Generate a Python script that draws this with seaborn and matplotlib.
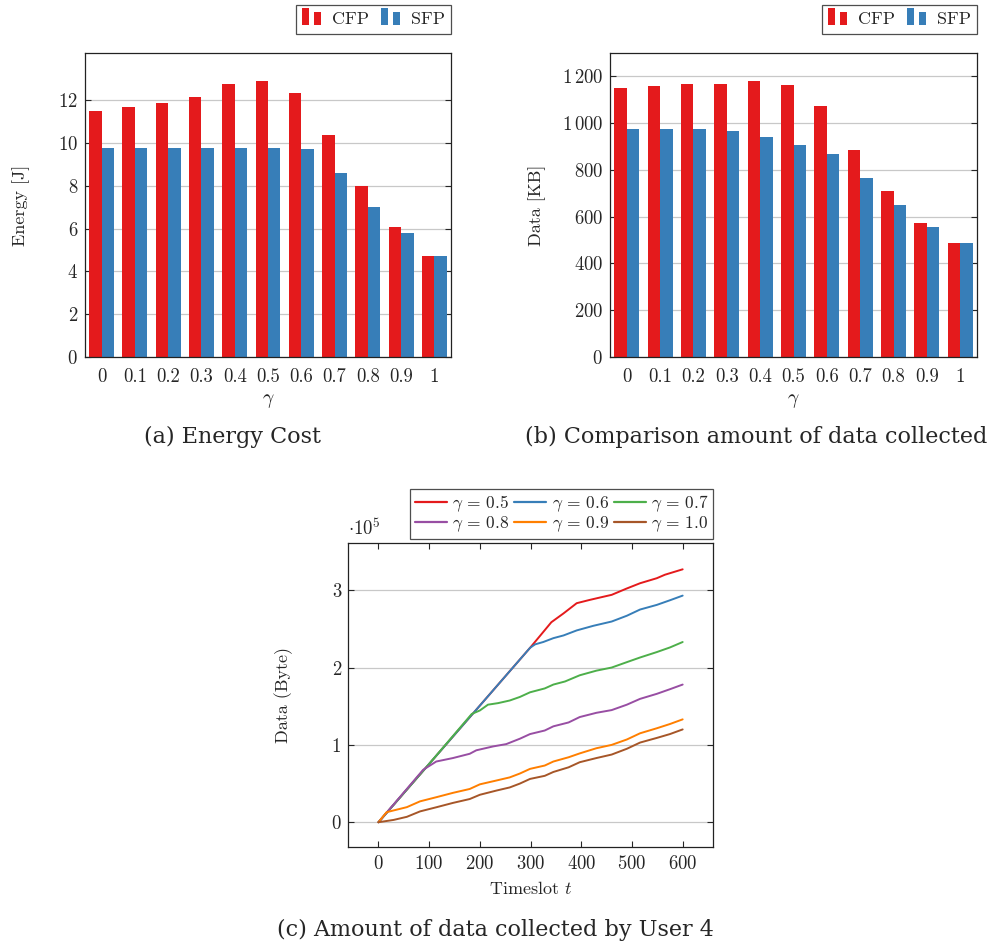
import numpy as np
import pandas as pd
import matplotlib
matplotlib.use("Agg")
import matplotlib.pyplot as plt
from matplotlib.patches import Rectangle
from matplotlib.lines import Line2D
from matplotlib.legend_handler import HandlerBase
from matplotlib.ticker import FuncFormatter, MultipleLocator, FixedLocator
import seaborn as sns

# ---------------- data ----------------
gammas = ["0", "0.1", "0.2", "0.3", "0.4", "0.5", "0.6", "0.7", "0.8", "0.9", "1"]
energy_cfp = [11.5, 11.68, 11.85, 12.15, 12.74, 12.91, 12.35, 10.35, 7.97, 6.09, 4.72]
energy_sfp = [9.78, 9.78, 9.78, 9.78, 9.78, 9.78, 9.73, 8.61, 6.99, 5.79, 4.72]
data_cfp = [1149, 1160, 1166, 1169, 1181, 1163, 1075, 885, 712, 574, 488]
data_sfp = [976, 976, 976, 968, 939, 907, 868, 764, 648, 555, 488]
energy_ticks = [0, 2, 4, 6, 8, 10, 12]
data_ticks = [0, 200, 400, 600, 800, 1000, 1200]

# user-4 cumulative data (units of 1e5 bytes)
t_g05 = [0, 100, 200, 299, 320, 341, 365, 391, 417, 440, 460, 489, 516, 549, 565, 600]
v_g05 = [0, 0.754, 1.508, 2.255, 2.42, 2.586, 2.70, 2.832, 2.875, 2.91, 2.94, 3.02, 3.09, 3.155, 3.20, 3.27]
t_g06 = [0, 100, 200, 299, 309, 325, 345, 365, 391, 424, 460, 490, 516, 549, 575, 600]
v_g06 = [0, 0.754, 1.508, 2.255, 2.30, 2.33, 2.38, 2.415, 2.48, 2.54, 2.595, 2.67, 2.75, 2.81, 2.87, 2.93]
t_g07 = [0, 100, 184, 200, 216, 236, 259, 279, 299, 328, 345, 368, 397, 430, 460, 490, 516, 549, 575, 600]
v_g07 = [0, 0.754, 1.40, 1.445, 1.52, 1.54, 1.574, 1.62, 1.68, 1.73, 1.78, 1.82, 1.90, 1.96, 2.00, 2.07, 2.13, 2.20, 2.26, 2.33]
t_g08 = [0, 88, 114, 147, 180, 193, 226, 252, 279, 299, 328, 345, 375, 397, 430, 460, 490, 516, 549, 575, 600]
v_g08 = [0, 0.677, 0.785, 0.83, 0.885, 0.93, 0.98, 1.01, 1.08, 1.14, 1.186, 1.24, 1.29, 1.36, 1.415, 1.45, 1.52, 1.595, 1.66, 1.72, 1.78]
t_g09 = [0, 16, 56, 82, 115, 147, 180, 200, 233, 259, 279, 299, 328, 345, 375, 397, 430, 460, 490, 516, 549, 575, 600]
v_g09 = [0, 0.13, 0.195, 0.27, 0.325, 0.38, 0.43, 0.49, 0.54, 0.58, 0.63, 0.69, 0.733, 0.785, 0.84, 0.89, 0.957, 1.00, 1.07, 1.15, 1.215, 1.27, 1.33]
t_g10 = [0, 30, 56, 82, 115, 147, 180, 200, 233, 259, 279, 299, 328, 345, 375, 397, 430, 460, 490, 516, 549, 575, 600]
v_g10 = [0, 0.03, 0.07, 0.14, 0.195, 0.25, 0.30, 0.355, 0.41, 0.45, 0.50, 0.56, 0.60, 0.65, 0.71, 0.776, 0.83, 0.875, 0.95, 1.03, 1.09, 1.14, 1.20]
line_ticks_y = [0, 1, 2, 3]

line_labels = [r"$\gamma\,=\,0.5$", r"$\gamma\,=\,0.6$", r"$\gamma\,=\,0.7$",
               r"$\gamma\,=\,0.8$", r"$\gamma\,=\,0.9$", r"$\gamma\,=\,1.0$"]
line_colors = ["#e41a1c", "#377eb8", "#4daf4a", "#984ea3", "#ff7f00", "#a65628"]
bar_colors = {"CFP": "#e41a1c", "SFP": "#377eb8"}

# ---------------- style ----------------
sns.set_style("ticks")
plt.rcParams.update({
    "font.family": ["cmr10", "DejaVu Serif"],
    "mathtext.fontset": "cm",
    "axes.formatter.use_mathtext": True,
    "font.size": 13,
    "axes.edgecolor": "#222222",
    "axes.linewidth": 0.9,
    "axes.unicode_minus": False,
})

TICK_FS = 13.5
LABEL_FS = 13

fig = plt.figure(figsize=(9.93, 9.49), dpi=100)
ax_a = fig.add_axes([0.0856, 0.6238, 0.3686, 0.3203])
ax_b = fig.add_axes([0.6143, 0.6238, 0.3696, 0.3203])
ax_c = fig.add_axes([0.3505, 0.1075, 0.3676, 0.3203])


class TwoBarHandler(HandlerBase):
    def create_artists(self, legend, orig_handle, xdescent, ydescent,
                       width, height, fontsize, trans):
        c = orig_handle.get_facecolor()
        w = width * 0.37
        y0 = -ydescent - height * 0.05
        r1 = Rectangle((-xdescent, y0), w, height * 1.3,
                       facecolor=c, edgecolor="none", transform=trans)
        r2 = Rectangle((-xdescent + width * 0.63, y0), w, height * 1.05,
                       facecolor=c, edgecolor="none", transform=trans)
        return [r1, r2]


def style_bar_axes(ax, ylim, ticks):
    ax.set_xlim(-0.5, len(gammas) - 0.5)
    ax.set_ylim(*ylim)
    ax.yaxis.set_major_locator(FixedLocator(ticks))
    ax.grid(axis="y", color="#c8c8c8", linewidth=0.9)
    ax.set_axisbelow(True)
    ax.tick_params(axis="x", length=0, pad=8, labelsize=TICK_FS)
    ax.tick_params(axis="y", direction="in", length=4, pad=5, labelsize=TICK_FS,
                   right=True, left=True)
    for s in ax.spines.values():
        s.set_visible(True)
    ax.set_xlabel(r"$\gamma$", fontsize=14)
    ax.xaxis.set_label_coords(0.5, -0.115)
    handles = [Rectangle((0, 0), 1, 1, facecolor=bar_colors["CFP"]),
               Rectangle((0, 0), 1, 1, facecolor=bar_colors["SFP"])]
    leg = ax.legend(handles, ["CFP", "SFP"], ncol=2, loc="upper right",
                    bbox_to_anchor=(1.0, 1.157), borderaxespad=0,
                    frameon=True, fancybox=False, edgecolor="#222222",
                    handler_map={Rectangle: TwoBarHandler()},
                    handlelength=1.05, handletextpad=0.6, columnspacing=0.65,
                    fontsize=13, borderpad=0.35)
    leg.get_frame().set_linewidth(0.9)


def bar_df(cfp, sfp):
    return pd.DataFrame({
        "gamma": gammas * 2,
        "scheme": ["CFP"] * len(gammas) + ["SFP"] * len(gammas),
        "value": list(cfp) + list(sfp),
    })


# (a) Energy
sns.barplot(data=bar_df(energy_cfp, energy_sfp), x="gamma", y="value", hue="scheme",
            order=gammas, hue_order=["CFP", "SFP"], palette=bar_colors,
            saturation=1, width=0.75, gap=0, legend=False, ax=ax_a,
            edgecolor="none")
style_bar_axes(ax_a, (0, 14.2), energy_ticks)
ax_a.set_ylabel("Energy [J]", fontsize=LABEL_FS)
ax_a.yaxis.set_label_coords(-0.15, 0.5)

# (b) Data
sns.barplot(data=bar_df(data_cfp, data_sfp), x="gamma", y="value", hue="scheme",
            order=gammas, hue_order=["CFP", "SFP"], palette=bar_colors,
            saturation=1, width=0.75, gap=0, legend=False, ax=ax_b,
            edgecolor="none")
style_bar_axes(ax_b, (0, 1300), data_ticks)


def thou(v, pos):
    v = int(round(v))
    if v >= 1000:
        return r"$%d\,%03d$" % (v // 1000, v % 1000)
    return r"$%d$" % v


ax_b.yaxis.set_major_formatter(FuncFormatter(thou))
ax_b.set_ylabel("Data [KB]", fontsize=LABEL_FS)
ax_b.yaxis.set_label_coords(-0.175, 0.5)

# (c) Lines
series_t = [t_g05, t_g06, t_g07, t_g08, t_g09, t_g10]
series_v = [v_g05, v_g06, v_g07, v_g08, v_g09, v_g10]
rows = []
for lab, ts, vs in zip(line_labels, series_t, series_v):
    for t, v in zip(ts, vs):
        rows.append((lab, t, v))
df_c = pd.DataFrame(rows, columns=["gamma", "t", "v"])
sns.lineplot(data=df_c, x="t", y="v", hue="gamma", hue_order=line_labels,
             palette=line_colors, estimator=None, sort=False, linewidth=1.4,
             legend=False, ax=ax_c)
ax_c.set_xlim(-60, 660)
ax_c.set_ylim(-0.32, 3.61)
ax_c.xaxis.set_major_locator(MultipleLocator(100))
ax_c.yaxis.set_major_locator(FixedLocator(line_ticks_y))
ax_c.yaxis.set_major_formatter(FuncFormatter(lambda v, p: "%d" % round(v)))
ax_c.grid(axis="y", color="#c8c8c8", linewidth=0.9)
ax_c.set_axisbelow(True)
ax_c.tick_params(axis="both", direction="in", length=4, labelsize=TICK_FS,
                 top=True, right=True)
ax_c.tick_params(axis="x", pad=6)
ax_c.tick_params(axis="y", pad=5)
for s in ax_c.spines.values():
    s.set_visible(True)
ax_c.set_xlabel(r"Timeslot $t$", fontsize=LABEL_FS)
ax_c.xaxis.set_label_coords(0.5, -0.11)
ax_c.set_ylabel("Data (Byte)", fontsize=LABEL_FS)
ax_c.yaxis.set_label_coords(-0.15, 0.5)
ax_c.text(0.0, 1.012, r"$\cdot 10^5$", transform=ax_c.transAxes,
          ha="left", va="bottom", fontsize=TICK_FS)
lh = [Line2D([0], [0], color=c, linewidth=1.6) for c in line_colors]
# column-major fill of a 3-column legend -> reorder so rows read 0.5,0.6,0.7 / 0.8,0.9,1.0
order = [0, 3, 1, 4, 2, 5]
leg = ax_c.legend([lh[i] for i in order], [line_labels[i] for i in order],
                  ncol=3, loc="upper right",
                  bbox_to_anchor=(1.0, 1.178), borderaxespad=0,
                  frameon=True, fancybox=False, edgecolor="#222222",
                  handlelength=1.85, handletextpad=0.3, columnspacing=0.3,
                  fontsize=12.5, borderpad=0.25, labelspacing=0.05)
leg.get_frame().set_linewidth(0.9)

# captions
cap_kw = dict(fontsize=16, family="DejaVu Serif", ha="center", va="center")
fig.text(232 / 993, 1 - 437 / 949, "(a) Energy Cost", **cap_kw)
fig.text(756 / 993, 1 - 437 / 949, "(b) Comparison amount of data collected", **cap_kw)
fig.text(495 / 993, 1 - 930 / 949, "(c) Amount of data collected by User 4", **cap_kw)

fig.savefig("out.png", dpi=100)
